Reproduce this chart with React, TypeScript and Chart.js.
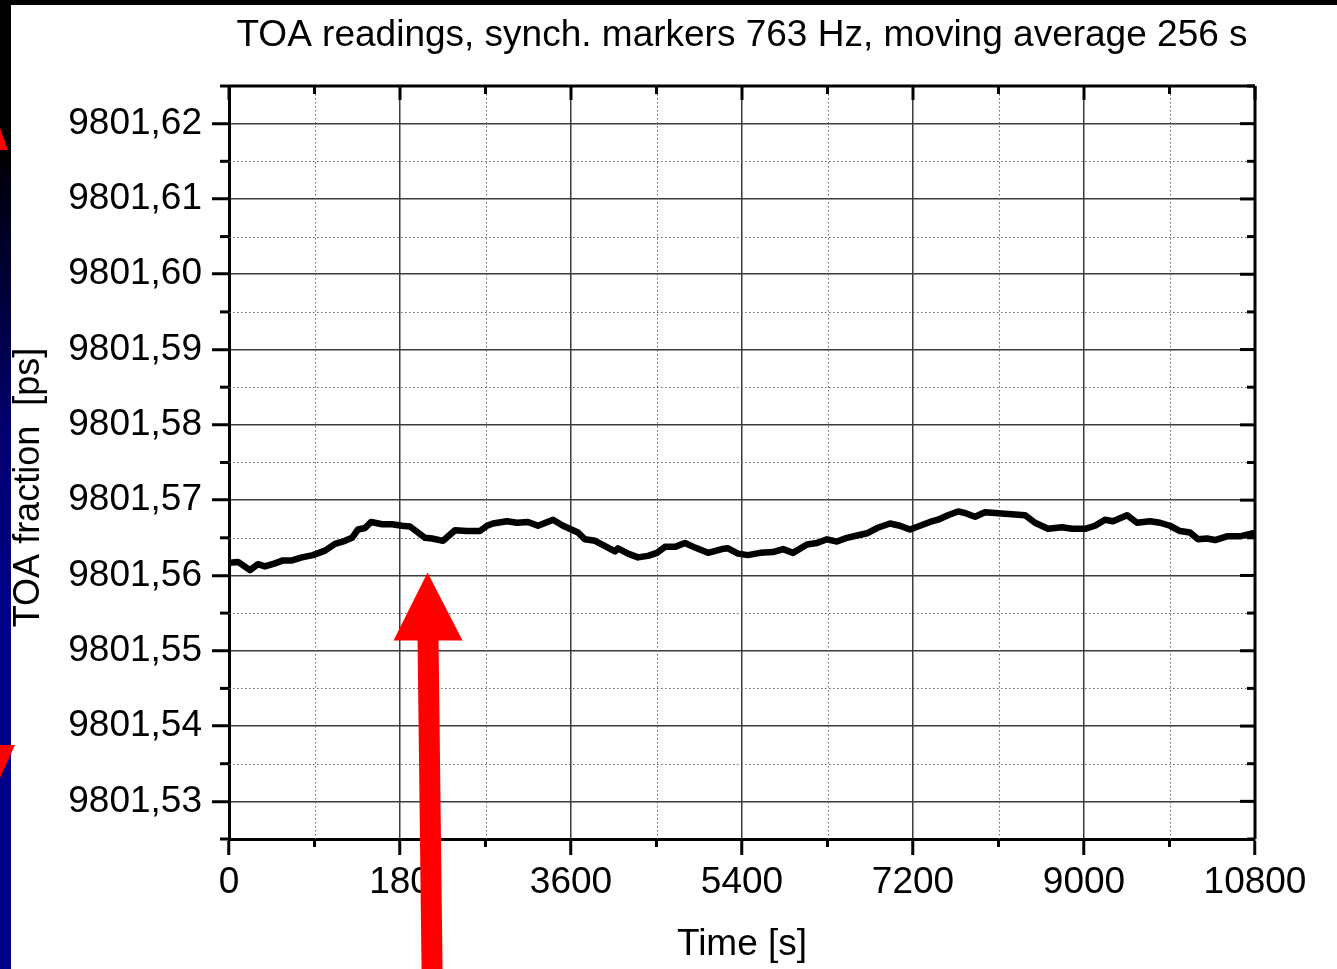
import { useEffect, useRef } from 'react';
import { Chart, registerables } from 'chart.js';

Chart.register(...registerables);

const FONT = "'Liberation Sans', Arial, sans-serif";

// Moving-average TOA readings over a 3-hour run
const TIME_S = [
  0, 95, 221, 305, 379, 484, 568, 663, 768, 884,
  1011, 1116, 1221, 1295, 1358, 1432, 1495, 1611, 1716, 1821,
  1905, 1989, 2063, 2137, 2253, 2379, 2505, 2642, 2716, 2779,
  2926, 3032, 3147, 3253, 3411, 3516, 3621, 3674, 3747, 3853,
  3958, 4063, 4095, 4200, 4305, 4411, 4505, 4589, 4695, 4800,
  4905, 5042, 5189, 5253, 5358, 5463, 5589, 5726, 5832, 5937,
  6084, 6189, 6295, 6400, 6505, 6611, 6716, 6821, 6958, 7063,
  7168, 7274, 7379, 7463, 7568, 7674, 7747, 7853, 7958, 8063,
  8168, 8274, 8379, 8484, 8621, 8768, 8874, 9011, 9116, 9221,
  9305, 9453, 9558, 9695, 9800, 9905, 10011, 10116, 10200, 10295,
  10379, 10505, 10642, 10779, 10800,
];

const TOA_PS = [
  9801.5617, 9801.5618, 9801.5607, 9801.5615, 9801.5612, 9801.5616, 9801.5620, 9801.5620, 9801.5624, 9801.5627,
  9801.5633, 9801.5642, 9801.5646, 9801.5650, 9801.5661, 9801.5663, 9801.5671, 9801.5668, 9801.5668, 9801.5666,
  9801.5665, 9801.5657, 9801.5650, 9801.5649, 9801.5646, 9801.5660, 9801.5659, 9801.5659, 9801.5666, 9801.5669,
  9801.5672, 9801.5670, 9801.5671, 9801.5666, 9801.5674, 9801.5666, 9801.5660, 9801.5657, 9801.5648, 9801.5646,
  9801.5639, 9801.5632, 9801.5636, 9801.5629, 9801.5624, 9801.5626, 9801.5630, 9801.5638, 9801.5638, 9801.5643,
  9801.5637, 9801.5630, 9801.5635, 9801.5636, 9801.5629, 9801.5627, 9801.5630, 9801.5631, 9801.5635, 9801.5630,
  9801.5641, 9801.5643, 9801.5648, 9801.5645, 9801.5650, 9801.5653, 9801.5656, 9801.5663, 9801.5669, 9801.5666,
  9801.5661, 9801.5666, 9801.5671, 9801.5674, 9801.5680, 9801.5685, 9801.5683, 9801.5678, 9801.5684, 9801.5683,
  9801.5682, 9801.5681, 9801.5680, 9801.5670, 9801.5662, 9801.5664, 9801.5662, 9801.5662, 9801.5666, 9801.5674,
  9801.5672, 9801.5680, 9801.5670, 9801.5672, 9801.5670, 9801.5666, 9801.5659, 9801.5657, 9801.5648, 9801.5649,
  9801.5647, 9801.5652, 9801.5652, 9801.5656, 9801.5655,
];

const X_MIN = 0;
const X_MAX = 10800;
const X_TICKS = [0, 1800, 3600, 5400, 7200, 9000, 10800];
const X_TICK_LABELS = ['0', '180', '3600', '5400', '7200', '9000', '10800'];
const X_MINOR_TICKS = [900, 2700, 4500, 6300, 8100, 9900];

const Y_MIN = 9801.525;
const Y_MAX = 9801.625;
const Y_TICKS = [9801.53, 9801.54, 9801.55, 9801.56, 9801.57, 9801.58, 9801.59, 9801.6, 9801.61, 9801.62];
const Y_TICK_LABELS = ['9801,53', '9801,54', '9801,55', '9801,56', '9801,57', '9801,58', '9801,59', '9801,60', '9801,61', '9801,62'];
const Y_MINOR_TICKS = [9801.525, 9801.535, 9801.545, 9801.555, 9801.565, 9801.575, 9801.585, 9801.595, 9801.605, 9801.615, 9801.625];

// Point the red arrow at this reading
const ARROW_TIP = { time: 2090, value: 9801.5604 };

const TITLE = 'TOA readings, synch. markers 763 Hz, moving average 256 s';
const X_TITLE = 'Time [s]';
const Y_TITLE = 'TOA fraction  [ps]     ';

const framePlugin = {
  id: 'frame',
  beforeDraw(chart: any) {
    const { ctx, width, height } = chart;
    ctx.save();
    ctx.fillStyle = '#000';
    ctx.fillRect(0, 0, width, height);
    // slide strip on the left
    const g = ctx.createLinearGradient(0, 150, 0, 620);
    g.addColorStop(0, '#000000');
    g.addColorStop(0.08, '#000014');
    g.addColorStop(0.6, '#00006e');
    g.addColorStop(1, '#000088');
    ctx.fillStyle = g;
    ctx.fillRect(0, 150, 11, height - 150);
    ctx.fillStyle = '#fff';
    ctx.fillRect(11, 5, width - 11, height - 5);
    ctx.fillStyle = '#ff0000';
    ctx.beginPath();
    ctx.moveTo(0, 128);
    ctx.lineTo(8, 150);
    ctx.lineTo(0, 150);
    ctx.closePath();
    ctx.fill();
    ctx.beginPath();
    ctx.moveTo(0, 745);
    ctx.lineTo(15, 745);
    ctx.lineTo(0, 778);
    ctx.closePath();
    ctx.fill();
    ctx.restore();
  },
  beforeDatasetsDraw(chart: any) {
    const { ctx, chartArea: a, scales } = chart;
    const xs = scales.x;
    const ys = scales.y;
    ctx.save();
    ctx.strokeStyle = '#666';
    ctx.lineWidth = 1;
    ctx.setLineDash([1.5, 2.5]);
    X_MINOR_TICKS.forEach((v) => {
      const px = Math.round(xs.getPixelForValue(v)) + 0.5;
      ctx.beginPath();
      ctx.moveTo(px, a.top);
      ctx.lineTo(px, a.bottom);
      ctx.stroke();
    });
    Y_MINOR_TICKS.filter((v) => v > Y_MIN && v < Y_MAX).forEach((v) => {
      const py = Math.round(ys.getPixelForValue(v)) + 0.5;
      ctx.beginPath();
      ctx.moveTo(a.left, py);
      ctx.lineTo(a.right, py);
      ctx.stroke();
    });
    ctx.restore();
  },
  afterDatasetsDraw(chart: any) {
    const { ctx, chartArea: a, scales } = chart;
    const xs = scales.x;
    const ys = scales.y;
    ctx.save();
    ctx.strokeStyle = '#000';
    ctx.lineWidth = 3;
    ctx.setLineDash([]);
    const seg = (x1: number, y1: number, x2: number, y2: number) => {
      ctx.beginPath();
      ctx.moveTo(x1, y1);
      ctx.lineTo(x2, y2);
      ctx.stroke();
    };
    // top and right frame
    seg(a.left, a.top, a.right, a.top);
    seg(a.right, a.top, a.right, a.bottom);
    X_TICKS.forEach((v) => {
      const px = xs.getPixelForValue(v);
      seg(px, a.top, px, a.top + 14);
    });
    X_MINOR_TICKS.forEach((v) => {
      const px = xs.getPixelForValue(v);
      seg(px, a.top, px, a.top + 8);
      seg(px, a.bottom, px, a.bottom + 8);
    });
    Y_TICKS.forEach((v) => {
      const py = ys.getPixelForValue(v);
      seg(a.right - 15, py, a.right, py);
    });
    Y_MINOR_TICKS.forEach((v) => {
      const py = ys.getPixelForValue(v);
      seg(a.left - 9, py, a.left, py);
      seg(a.right - 8, py, a.right, py);
    });
    ctx.restore();
  },
  afterDraw(chart: any) {
    const { ctx, height, scales } = chart;
    const px = scales.x.getPixelForValue(ARROW_TIP.time);
    const py = scales.y.getPixelForValue(ARROW_TIP.value);
    const headH = 68;
    ctx.save();
    ctx.fillStyle = '#ff0000';
    ctx.beginPath();
    ctx.moveTo(px, py);
    ctx.lineTo(px + 35, py + headH);
    ctx.lineTo(px + 11, py + headH);
    ctx.lineTo(px + 15, height);
    ctx.lineTo(px - 6, height);
    ctx.lineTo(px - 10, py + headH);
    ctx.lineTo(px - 34, py + headH);
    ctx.closePath();
    ctx.fill();
    ctx.restore();
  },
};

export default function App() {
  const canvasRef = useRef<HTMLCanvasElement>(null);

  useEffect(() => {
    const canvas = canvasRef.current;
    if (!canvas) return;
    const points = TIME_S.map((t, i) => ({ x: t, y: TOA_PS[i] }));
    const chart = new Chart(canvas, {
      type: 'line',
      data: {
        datasets: [
          {
            data: points,
            borderColor: '#000',
            borderWidth: 6.5,
            borderJoinStyle: 'round',
            borderCapStyle: 'round',
            pointRadius: 0,
            tension: 0,
            fill: false,
          },
        ],
      },
      options: {
        responsive: false,
        animation: false,
        devicePixelRatio: 1,
        layout: { padding: { left: 0, right: 82, top: 0, bottom: 0 } },
        plugins: {
          legend: { display: false },
          tooltip: { enabled: false },
          title: {
            display: true,
            text: TITLE,
            fullSize: false,
            color: '#000',
            font: { family: FONT, size: 37, weight: 'normal' },
            padding: { top: 14, bottom: 27.6 },
          },
        },
        scales: {
          x: {
            type: 'linear',
            min: X_MIN,
            max: X_MAX,
            afterBuildTicks: (scale: any) => {
              scale.ticks = X_TICKS.map((value) => ({ value }));
            },
            afterFit: (scale: any) => {
              scale.height = 130;
            },
            ticks: {
              autoSkip: false,
              maxRotation: 0,
              padding: 6,
              color: '#000',
              font: { family: FONT, size: 37 },
              callback: (_v: any, i: number) => X_TICK_LABELS[i],
            },
            grid: {
              color: '#3c3c3c',
              lineWidth: 1.5,
              drawTicks: true,
              tickLength: 16,
              tickColor: '#000',
              tickWidth: 3,
            },
            border: { color: '#000', width: 3 },
            title: {
              display: true,
              text: X_TITLE,
              color: '#000',
              font: { family: FONT, size: 37 },
              padding: { top: 0, bottom: 2 },
            },
          },
          y: {
            type: 'linear',
            min: Y_MIN,
            max: Y_MAX,
            afterBuildTicks: (scale: any) => {
              scale.ticks = Y_TICKS.map((value) => ({ value }));
            },
            afterFit: (scale: any) => {
              scale.width = 229;
            },
            ticks: {
              autoSkip: false,
              padding: 10,
              color: '#000',
              font: { family: FONT, size: 37 },
              callback: (_v: any, i: number) => Y_TICK_LABELS[i],
            },
            grid: {
              color: '#3c3c3c',
              lineWidth: 1.5,
              drawTicks: true,
              tickLength: 17,
              tickColor: '#000',
              tickWidth: 3,
            },
            border: { color: '#000', width: 3 },
            title: {
              display: true,
              text: Y_TITLE,
              color: '#000',
              font: { family: FONT, size: 36 },
              padding: { top: 7, bottom: 0 },
            },
          },
        },
      },
      plugins: [framePlugin],
    } as any);
    return () => chart.destroy();
  }, []);

  return (
    <canvas
      ref={canvasRef}
      width={1337}
      height={969}
      style={{ position: 'fixed', left: 0, top: 0, width: 1337, height: 969, display: 'block' }}
    />
  );
}
